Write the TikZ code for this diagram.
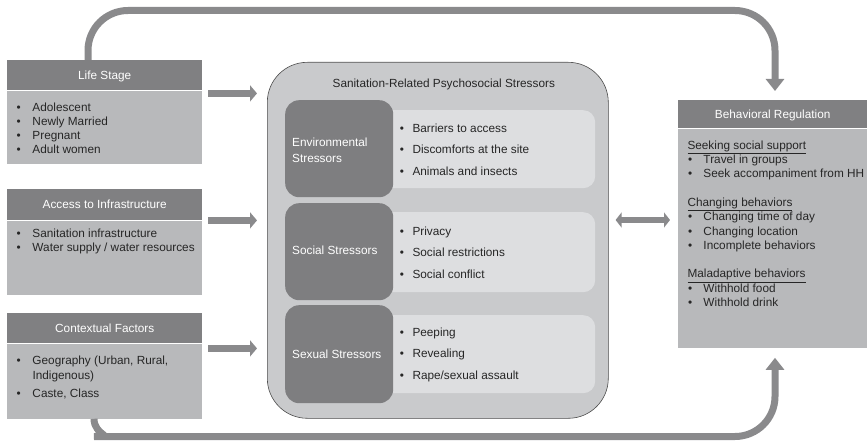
\documentclass[tikz,border=0pt]{standalone}
\usepackage{fontspec}
\setmainfont{Liberation Sans}
\usetikzlibrary{arrows.meta,calc}

\definecolor{hdrgray}{RGB}{128,128,130}
\definecolor{bodygray}{RGB}{184,185,187}
\definecolor{midgray}{RGB}{201,202,204}
\definecolor{darkin}{RGB}{126,126,128}
\definecolor{lightin}{RGB}{221,222,224}
\definecolor{arrowgray}{RGB}{138,138,140}
\definecolor{textc}{RGB}{38,38,38}

\newcommand\bul[1]{\makebox[#1][l]{\textbullet}}

\tikzset{
  every node/.style={font=\fontsize{11.8}{14.3}\selectfont, text=textc, inner sep=0pt},
  hdr/.style={fill=hdrgray, text=white, minimum width=195pt, anchor=north west,
    text height=8.5pt, text depth=0.5pt},
  bodybox/.style={fill=bodygray, minimum width=195pt, anchor=north west},
  darkbox/.style={fill=darkin, rounded corners=14pt, minimum width=108pt, anchor=north west},
  lightbox/.style={fill=lightin, rounded corners=12pt, minimum width=215pt, anchor=north west},
  darklbl/.style={text=white, align=left, anchor=west, font=\fontsize{11.8}{16}\selectfont},
  lefttxt/.style={anchor=north west, align=left, font=\fontsize{11.8}{14}\selectfont},
  midtxt/.style={anchor=north west, align=left, font=\fontsize{11.8}{21.5}\selectfont},
  fat/.style={draw=arrowgray, line width=6.7pt, -{Triangle[width=16pt,length=7pt]}},
  fatboth/.style={draw=arrowgray, line width=6.7pt, {Triangle[width=15pt,length=6pt]}-{Triangle[width=15pt,length=6pt]}},
  backline/.style={draw=arrowgray, line width=7pt, rounded corners=40pt,
    -{Triangle[width=18pt,length=12pt]}}
}

\begin{document}
\begin{tikzpicture}[x=1pt,y=1pt]
\useasboundingbox (0,0) rectangle (868,-441);

% left column
\node[hdr, minimum height=30pt] (lshead) at (7,-60) {Life Stage};
\node[bodybox, minimum height=73pt] (lsbody) at (lshead.south west) {};
\node[lefttxt] (lslist) at (16.3,-102.5) {\bul{16pt}Adolescent\\ \bul{16pt}Newly Married\\
  \bul{16pt}Pregnant\\ \bul{16pt}Adult women};

\node[hdr, minimum height=31pt] (aihead) at (7,-189) {Access to Infrastructure};
\node[bodybox, minimum height=74pt] (aibody) at (aihead.south west) {};
\node[lefttxt] (ailist) at (16.3,-228.5) {\bul{16pt}Sanitation infrastructure\\
  \bul{16pt}Water supply / water resources};

\node[hdr, minimum height=30pt] (cfhead) at (7,-313) {Contextual Factors};
\node[bodybox, minimum height=75pt] (cfbody) at (cfhead.south west) {};
\node[lefttxt, font=\fontsize{11.8}{15}\selectfont] (cflist) at (16.3,-355.5)
  {\bul{16pt}Geography (Urban, Rural,\\ \hspace*{16pt}Indigenous)\\[3pt]
  \bul{16pt}Caste, Class};

% stressors
\node[fill=midgray, draw=black!70, line width=0.6pt, rounded corners=40pt,
  minimum width=341pt, minimum height=356pt, anchor=north west] (mid) at (267,-62) {};
\node[anchor=base] (midtitle) at ($(mid.north)+(6,-26)$) {Sanitation-Related Psychosocial Stressors};

\node[lightbox, minimum height=78pt] (envbg) at (380,-110) {};
\node[lightbox, minimum height=80pt] (socbg) at (380,-212) {};
\node[lightbox, minimum height=78pt] (sexbg) at (380,-315) {};
\node[darkbox, minimum height=97pt] (envdark) at (285,-100) {};
\node[darkbox, minimum height=97pt] (socdark) at (285,-203) {};
\node[darkbox, minimum height=98pt] (sexdark) at (285,-305) {};

\node[darklbl] (envlbl) at ($(envdark.west)+(7,-1.5)$) {Environmental\\Stressors};
\node[darklbl] (soclbl) at ($(socdark.west)+(7,1.5)$) {Social Stressors};
\node[darklbl] (sexlbl) at ($(sexdark.west)+(7,0)$) {Sexual Stressors};

\node[midtxt] (envlist) at (399.6,-123.5) {\bul{12.7pt}Barriers to access\\
  \bul{12.7pt}Discomforts at the site\\ \bul{12.7pt}Animals and insects};
\node[midtxt] (soclist) at (399.6,-226.5) {\bul{12.7pt}Privacy\\
  \bul{12.7pt}Social restrictions\\ \bul{12.7pt}Social conflict};
\node[midtxt] (sexlist) at (399.6,-327.5) {\bul{12.7pt}Peeping\\
  \bul{12.7pt}Revealing\\ \bul{12.7pt}Rape/sexual assault};

% right column
\node[hdr, minimum width=189pt, minimum height=28pt] (brhead) at (678,-100) {Behavioral Regulation};
\node[bodybox, minimum width=189pt, minimum height=219pt] (brbody) at (brhead.south west) {};
\node[anchor=north west, align=left] (brlist) at (687.3,-140.5) {\underline{Seeking social support}\\
  \hspace*{0.7pt}\bul{15.3pt}Travel in groups\\
  \hspace*{0.7pt}\bul{15.3pt}Seek accompaniment from HH\\[14.3pt]
  \underline{Changing behaviors}\\
  \hspace*{0.7pt}\bul{15.3pt}Changing time of day\\
  \hspace*{0.7pt}\bul{15.3pt}Changing location\\
  \hspace*{0.7pt}\bul{15.3pt}Incomplete behaviors\\[14.3pt]
  \underline{Maladaptive behaviors}\\
  \hspace*{0.7pt}\bul{15.3pt}Withhold food\\
  \hspace*{0.7pt}\bul{15.3pt}Withhold drink};

% arrows
\draw[fat] ($(lshead.south east)+(6,-3)$) -- ($(lshead.south east -| mid.west)+(-10,-3)$);
\draw[fat] ($(aihead.south east)+(6,0)$) -- ($(aihead.south east -| mid.west)+(-10,0)$);
\draw[fat] ($(cfhead.south east)+(6,-5)$) -- ($(cfhead.south east -| mid.west)+(-10,-5)$);
\draw[fatboth] ($(mid.north east)+(7,-158)$) -- ($(brbody.west |- mid.north east)+(-8,-158)$);

% feedback lines
\coordinate (tl) at (88,-10.5);
\coordinate (tr) at (775,-10.5);
\coordinate (bls) at (94,0);
\coordinate (bl) at (134,-436.5);
\coordinate (br) at (775,-436.5);
\draw[backline, shorten >=9pt] (lshead.north -| tl) -- (tl) -- (tr) -- (brhead.north -| tr);
\draw[backline, shorten >=10pt] (cfbody.south -| bls) to[out=-90,in=180] (bl) -- (br) -- (brbody.south -| br);
\end{tikzpicture}
\end{document}
